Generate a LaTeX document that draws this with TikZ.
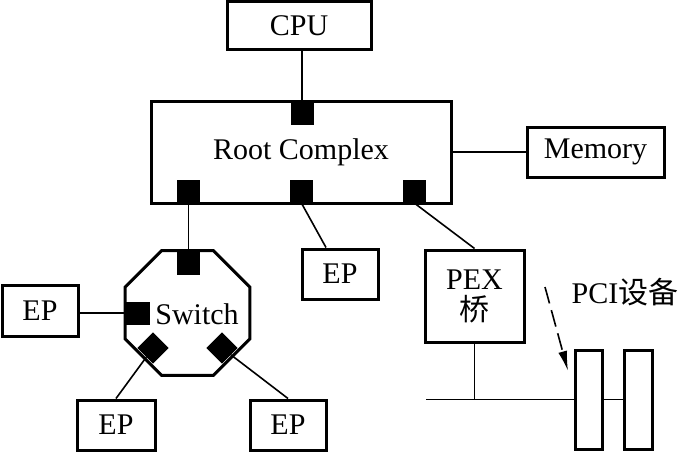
\documentclass[tikz,border=0pt]{standalone}
\usepackage{fontspec}
\setmainfont{Liberation Serif}
\newfontfamily\cjk{Noto Sans CJK SC}
\usetikzlibrary{shapes.geometric, arrows.meta}

\begin{document}
\begin{tikzpicture}[x=1pt, y=-1pt,
    box/.style={draw, line width=3pt, inner sep=0pt, font=\fontsize{30}{33}\selectfont},
    port/.style={fill, inner sep=0pt, minimum size=23},
    wire/.style={line width=1.6pt},
    txt/.style={inner sep=0pt, font=\fontsize{30}{33}\selectfont}]
    \useasboundingbox (0,0) rectangle (682,452);

    % boxes
    \node[box, minimum width=144, minimum height=48] (cpu) at (299,26) {CPU};
    \node[box, minimum width=300, minimum height=102] (rc) at (301,152) {Root Complex};
    \node[box, minimum width=137, minimum height=50] (mem) at (595.5,152) {Memory};
    \node[box, minimum width=76, minimum height=51] (ep1) at (40,311) {EP};
    \node[box, minimum width=76, minimum height=50] (ep2) at (340,274) {EP};
    \node[box, minimum width=78, minimum height=50] (ep3) at (116,425) {EP};
    \node[box, minimum width=76, minimum height=50] (ep4) at (288,425) {EP};
    \node[box, minimum width=99, minimum height=92, align=center] (pex) at (474.5,296) {PEX\\[-2pt]{\cjk 桥}};
    \node[box, minimum width=27, minimum height=99] (card1) at (588.5,399.5) {};
    \node[box, minimum width=28, minimum height=99] (card2) at (638,399.5) {};
    \node[draw, line width=3pt, regular polygon, regular polygon sides=8, minimum size=135, inner sep=0pt] (sw) at (187.5,313) {};
    \node[txt] (swtext) at (197,314) {Switch};
    \node[txt] (pcilbl) at (625,292) {PCI{\cjk 设备}};

    % ports
    \node[port] (rcin) at (302,113) {};
    \node[port] (p1) at (188.5,191.5) {};
    \node[port] (p2) at (301.5,191.5) {};
    \node[port] (p3) at (414.5,191.5) {};
    \node[port] (s1) at (188.5,263) {};
    \node[port, minimum width=25] (s2) at (137.5,313) {};
    \node[port, minimum size=22, rotate=45] (d1) at (153,348) {};
    \node[port, minimum size=22, rotate=45] (d2) at (222,348) {};

    % links
    \draw[wire] (rcin.north |- cpu.south) -- (rcin.north);
    \draw[wire] (rc.east) -- (mem.west);
    \draw[wire] (p1.south) -- (s1.north);
    \draw[wire] (p2.south) -- ([xshift=-14pt]ep2.north);
    \draw[wire] (p3.south) -- (pex.north);
    \draw[wire] (s2.west -| ep1.east) -- (s2.west);
    \draw[wire] (d1) -- (ep3.north);
    \draw[wire] (d2) -- (ep4.north);

    % PCI bus
    \coordinate (busL) at (426,399.5);
    \draw[wire] (busL) -- (card1.west);
    \draw[wire] (card1.east) -- (card2.west);
    \draw[wire] (pex.south) -- (pex.south |- busL);

    \coordinate (arrS) at (545,287);
    \coordinate (arrE) at (568,371);
    \draw[wire, dash pattern=on 17pt off 7pt, -{Latex[length=20pt, width=9pt]}] (arrS) -- (arrE);
\end{tikzpicture}
\end{document}
